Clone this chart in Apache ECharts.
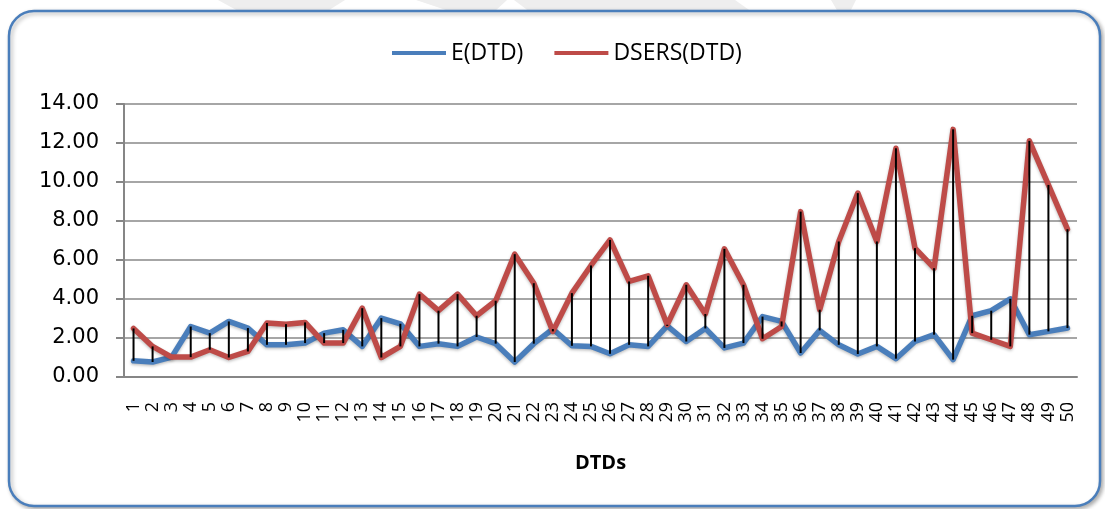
<!DOCTYPE html>
<html>
<head>
<meta charset="utf-8">
<title>E(DTD) vs DSERS(DTD)</title>
<script src="https://cdn.jsdelivr.net/npm/echarts@6/dist/echarts.min.js"></script>
<style>
  html, body { margin: 0; padding: 0; background: #ffffff; }
  #chart { width: 1105px; height: 509px; }
</style>
</head>
<body>
<div id="chart"></div>
<script>
// DTD index 1..50
const categories = Array.from({ length: 50 }, (_, i) => String(i + 1));

const eDTD = [
  0.83, 0.77, 1.02, 2.59, 2.25, 2.85, 2.51, 1.65, 1.65, 1.74,
  2.25, 2.42, 1.57, 3.02, 2.73, 1.57, 1.71, 1.57, 2.05, 1.71,
  0.77, 1.71, 2.46, 1.60, 1.57, 1.19, 1.65, 1.57, 2.62, 1.82,
  2.49, 1.49, 1.74, 3.10, 2.85, 1.23, 2.39, 1.65, 1.18, 1.57,
  0.94, 1.82, 2.17, 0.89, 3.14, 3.40, 4.01, 2.17, 2.34, 2.51
];

const dsersDTD = [
  2.49, 1.57, 1.02, 1.02, 1.40, 1.00, 1.31, 2.77, 2.71, 2.80,
  1.74, 1.74, 3.53, 1.00, 1.57, 4.25, 3.40, 4.25, 3.14, 3.91,
  6.30, 4.81, 2.34, 4.30, 5.72, 7.03, 4.90, 5.19, 2.68, 4.73,
  3.23, 6.57, 4.73, 1.96, 2.59, 8.48, 3.45, 6.95, 9.43, 6.95,
  11.73, 6.61, 5.58, 12.70, 2.25, 1.91, 1.57, 12.11, 9.85, 7.58
];

const yTicks = { min: 0, max: 14, interval: 2 };

// high-low connectors: [index, low series value, high series value]
const hiLo = categories.map((c, i) => [i, eDTD[i], dsersDTD[i]]);

const BLUE = '#4A7EBB';
const RED = '#BE4B48';
const GRID = '#A6A6A6';
const AXIS = '#868686';

const chart = echarts.init(document.getElementById('chart'), null, { renderer: 'canvas' });

chart.setOption({
  backgroundColor: '#ffffff',
  animation: false,
  graphic: [
    // faint backdrop shapes above the frame
    { type: 'polygon', z: -20, shape: { points: [[218, 0], [345, 0], [326, 12], [240, 12]] }, style: { fill: '#EEEEEE' } },
    { type: 'polygon', z: -20, shape: { points: [[416, 0], [507, 0], [494, 12], [452, 12]] }, style: { fill: '#EEEEEE' } },
    { type: 'polygon', z: -20, shape: { points: [[514, 0], [735, 0], [752, 12], [530, 12]] }, style: { fill: '#EEEEEE' } },
    { type: 'polygon', z: -20, shape: { points: [[831, 0], [856, 0], [850, 12], [838, 12]] }, style: { fill: '#EEEEEE' } },
    // chart frame
    {
      type: 'rect', z: -10,
      shape: { x: 9, y: 11, width: 1091, height: 495, r: 25 },
      style: {
        fill: '#ffffff', stroke: BLUE, lineWidth: 2.5,
        shadowBlur: 4, shadowColor: 'rgba(0,0,0,0.3)', shadowOffsetX: 2, shadowOffsetY: 2
      }
    }
  ],
  legend: {
    data: ['E(DTD)', 'DSERS(DTD)'],
    left: 387,
    top: 33,
    icon: 'rect',
    itemWidth: 54,
    itemHeight: 4,
    itemGap: 31,
    textStyle: {
      fontFamily: "'Open Sans', sans-serif",
      fontSize: 23,
      lineHeight: 30,
      color: '#000000'
    }
  },
  grid: { left: 124, right: 28, top: 104, bottom: 132, containLabel: false },
  xAxis: {
    type: 'category',
    data: categories,
    boundaryGap: true,
    name: 'DTDs',
    nameLocation: 'middle',
    nameGap: 76,
    nameTextStyle: { fontFamily: "'Open Sans', sans-serif", fontWeight: 'bold', fontSize: 20, color: '#000000' },
    axisLine: { lineStyle: { color: AXIS, width: 2 } },
    axisTick: { show: false },
    axisLabel: {
      interval: 0,
      rotate: 90,
      margin: 25,
      fontFamily: "'Open Sans', sans-serif",
      fontSize: 18,
      color: '#000000'
    },
    splitLine: { show: false }
  },
  yAxis: {
    type: 'value',
    min: yTicks.min,
    max: yTicks.max,
    interval: yTicks.interval,
    axisLine: { show: true, lineStyle: { color: AXIS, width: 2 } },
    axisTick: { show: true, length: 8, lineStyle: { color: AXIS, width: 2 } },
    axisLabel: {
      margin: 25,
      fontFamily: "'DejaVu Sans', sans-serif",
      fontSize: 21,
      color: '#000000',
      formatter: v => v.toFixed(2)
    },
    splitLine: { show: true, lineStyle: { color: GRID, width: 2 } }
  },
  series: [
    {
      name: 'E(DTD)',
      type: 'line',
      data: eDTD,
      symbol: 'none',
      z: 3,
      color: BLUE,
      lineStyle: {
        color: BLUE, width: 5.5, join: 'round', cap: 'round',
        shadowBlur: 3, shadowColor: 'rgba(0,0,0,0.25)', shadowOffsetY: 1.5
      }
    },
    {
      name: 'DSERS(DTD)',
      type: 'line',
      data: dsersDTD,
      symbol: 'none',
      z: 4,
      color: RED,
      lineStyle: {
        color: RED, width: 5.5, join: 'round', cap: 'round',
        shadowBlur: 3, shadowColor: 'rgba(0,0,0,0.25)', shadowOffsetY: 1.5
      }
    },
    {
      name: 'High-Low',
      type: 'custom',
      data: hiLo,
      z: 5,
      encode: { x: 0, y: [1, 2] },
      renderItem: (params, api) => {
        const a = api.coord([api.value(0), api.value(1)]);
        const b = api.coord([api.value(0), api.value(2)]);
        return {
          type: 'line',
          shape: { x1: a[0], y1: a[1], x2: b[0], y2: b[1] },
          style: { stroke: '#000000', lineWidth: 2 }
        };
      }
    }
  ]
});
</script>
</body>
</html>
